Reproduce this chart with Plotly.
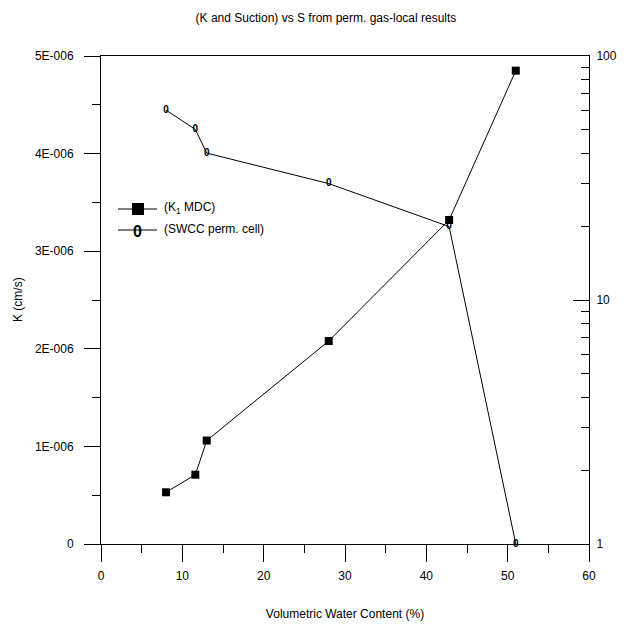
import plotly.graph_objects as go

# ---- data ----
water_content = [8, 11.6, 13, 28, 42.8, 51]
k_mdc = [0.53e-6, 0.71e-6, 1.06e-6, 2.08e-6, 3.32e-6, 4.85e-6]
suction = [60, 50, 40, 30, 20, 1]

x_ticks = [0, 10, 20, 30, 40, 50, 60]
k_tickvals = [0, 1e-6, 2e-6, 3e-6, 4e-6, 5e-6]
k_ticktext = ["0", "1E-006", "2E-006", "3E-006", "4E-006", "5E-006"]
s_tickvals = [1, 10, 100]
s_ticktext = ["1", "10", "100"]
s_minor = [2, 3, 4, 5, 6, 7, 8, 9, 20, 30, 40, 50, 60, 70, 80, 90]

legend_labels = ["(K<sub>1</sub> MDC)", "(SWCC perm. cell)"]
title_text = "(K and Suction) vs S from perm. gas-local results"
x_title = "Volumetric Water Content (%)"
y_title = "K (cm/s)"

FONT = "Liberation Sans, Arial, sans-serif"
W, H = 629, 627
L, R, T, B = 101, 40, 56, 83
PW, PH = W - L - R, H - T - B


def px(xp):
    return (xp - L) / PW


def py(yp):
    return (H - B - yp) / PH


fig = go.Figure()

fig.add_trace(go.Scatter(
    x=water_content, y=k_mdc, mode="lines+markers",
    line=dict(color="black", width=1),
    marker=dict(symbol="square", size=8, color="black"),
    showlegend=False, yaxis="y", cliponaxis=False,
))

fig.add_trace(go.Scatter(
    x=water_content, y=suction, mode="lines+text",
    text=["0"] * len(suction), textposition="middle center",
    textfont=dict(family=FONT, size=10, color="black", weight="bold"),
    line=dict(color="black", width=1),
    showlegend=False, yaxis="y2", cliponaxis=False,
))

shapes = []
annotations = []

# legend (manual)
leg_rows = [(209, "square"), (230, "zero")]
for (yy, kind), label in zip(leg_rows, legend_labels):
    shapes.append(dict(type="line", xref="paper", yref="paper",
                       x0=px(118), x1=px(157), y0=py(yy), y1=py(yy),
                       line=dict(color="black", width=1)))
    if kind == "square":
        shapes.append(dict(type="rect", xref="paper", yref="paper",
                           x0=px(132), x1=px(144), y0=py(yy - 6), y1=py(yy + 6),
                           fillcolor="black", line=dict(color="black", width=0)))
    else:
        annotations.append(dict(text="<b>0</b>", xref="paper", yref="paper",
                                x=px(137), y=py(yy + 1), showarrow=False,
                                xanchor="center", yanchor="middle",
                                font=dict(family=FONT, size=16, color="black")))
    annotations.append(dict(text=label, xref="paper", yref="paper",
                            x=px(162), y=py(yy - 1), showarrow=False,
                            xanchor="left", yanchor="middle",
                            font=dict(family=FONT, size=12, color="black")))

# y title
annotations.append(dict(text=y_title, xref="paper", yref="paper",
                        x=px(18), y=0.5, showarrow=False, textangle=-90,
                        xanchor="center", yanchor="middle",
                        font=dict(family=FONT, size=12, color="black")))

fig.update_layout(
    width=W, height=H,
    margin=dict(l=L, r=R, t=T, b=B),
    paper_bgcolor="white", plot_bgcolor="white",
    font=dict(family=FONT, size=12, color="black"),
    title=dict(text=title_text, x=326 / W, xref="container", xanchor="center",
               y=1 - 18 / H, yref="container", yanchor="middle",
               font=dict(family=FONT, size=12, color="black")),
    xaxis=dict(range=[0, 60], tickvals=x_ticks, ticks="outside", ticklen=17,
               tickwidth=1, tickcolor="black", showline=True, linecolor="black",
               linewidth=1, mirror=True, showgrid=False, zeroline=False,
               minor=dict(dtick=5, ticks="outside", ticklen=8, tickcolor="black"),
               ticklabelstandoff=4, automargin=False,
               title=dict(text=x_title, standoff=27,
                          font=dict(family=FONT, size=12))),
    yaxis=dict(range=[0, 5e-6], tickvals=k_tickvals, ticktext=k_ticktext,
               ticks="outside", ticklen=16, tickwidth=1, tickcolor="black",
               showline=True, linecolor="black", linewidth=1,
               showgrid=False, zeroline=False, automargin=False,
               minor=dict(dtick=0.5e-6, ticks="outside", ticklen=8, tickcolor="black"),
               ticklabelstandoff=8),
    yaxis2=dict(type="log", range=[0, 2], overlaying="y", side="right",
                tickvals=s_tickvals, ticktext=s_ticktext,
                ticks="inside", ticklen=16, tickwidth=1, tickcolor="black",
                showline=True, linecolor="black", linewidth=1,
                showgrid=False, zeroline=False, automargin=False,
                minor=dict(tickvals=s_minor, ticks="inside", ticklen=8, tickcolor="black"),
                ticklabelstandoff=4),
    shapes=shapes, annotations=annotations,
)

fig.write_html("out.html")
